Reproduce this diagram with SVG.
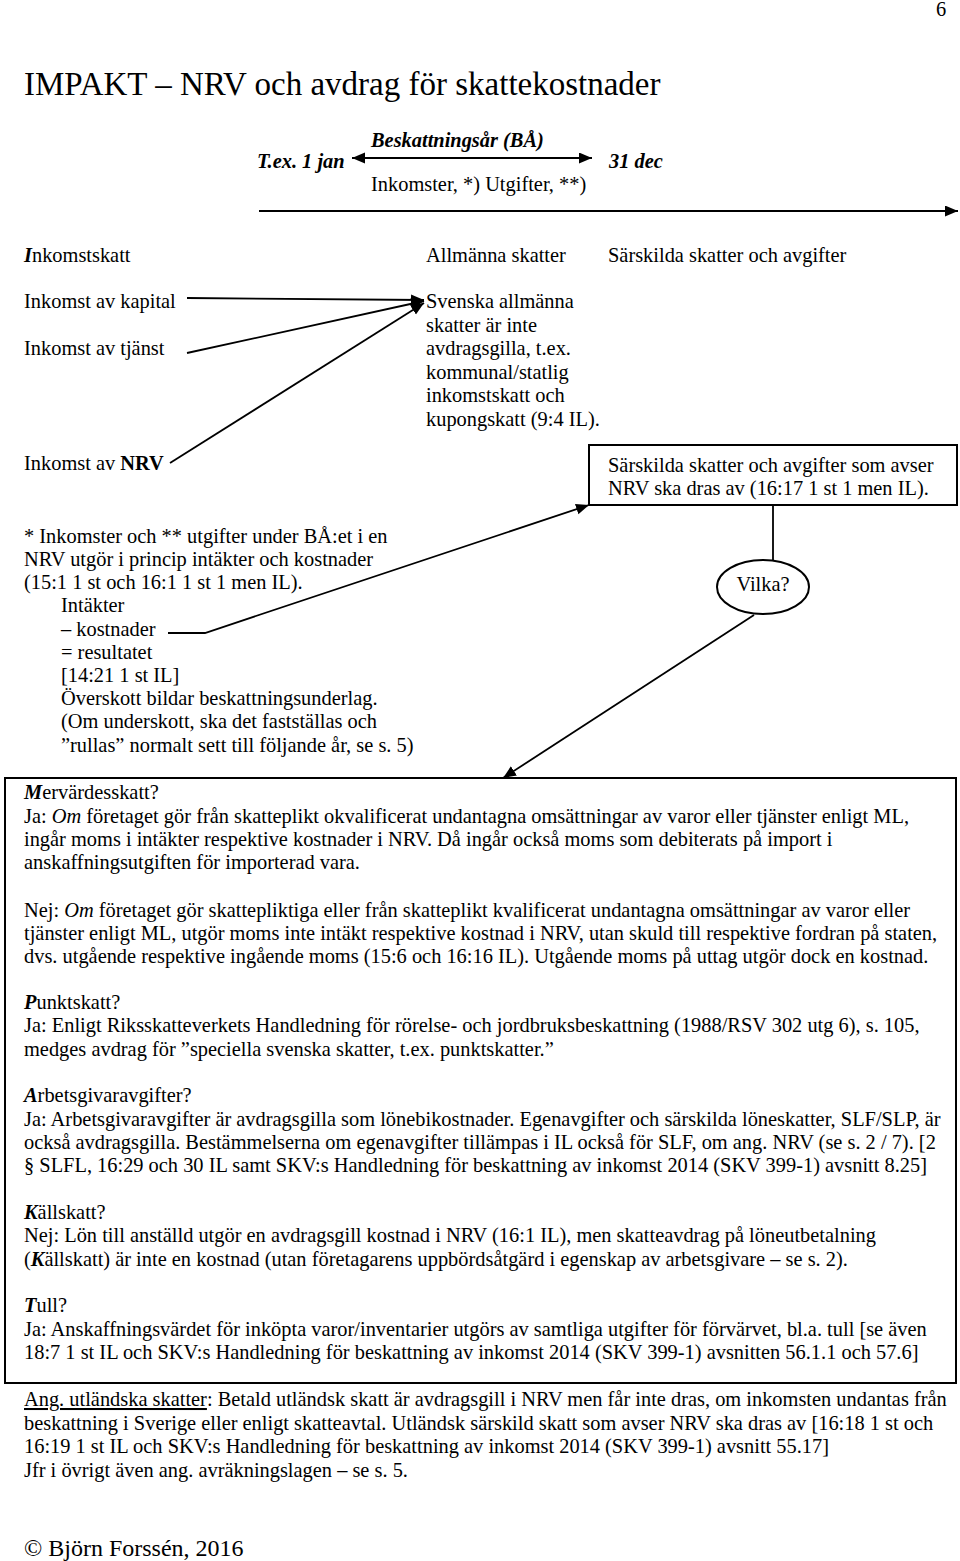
<svg xmlns="http://www.w3.org/2000/svg" width="960" height="1561" viewBox="0 0 960 1561">
<style>
text{font-family:"Liberation Serif","Times New Roman",serif;font-size:20.4px;fill:#000}
.t{font-size:33px}
.bi{font-weight:bold;font-style:italic}
.b{font-weight:bold}
.i{font-style:italic}
.ln{stroke:#000;stroke-width:1.8;fill:none}
.bx{stroke:#000;stroke-width:2;fill:none}
</style>
<defs>
<marker id="ah" markerUnits="userSpaceOnUse" markerWidth="14" markerHeight="12" refX="13" refY="5.5" orient="auto-start-reverse">
<path d="M0,0 L13,5.5 L0,11 z" fill="#000"/>
</marker>
</defs>
<rect width="960" height="1561" fill="#fff"/>
<text x="936" y="16">6</text>
<text class="t" x="24" y="95">IMPAKT – NRV och avdrag för skattekostnader</text>

<g id="timeline">
<text class="bi" x="371" y="147">Beskattningsår (BÅ)</text>
<text class="bi" x="257" y="168">T.ex. 1 jan</text>
<text class="bi" x="609" y="168">31 dec</text>
<text x="371" y="191">Inkomster, *) Utgifter, **)</text>
</g>

<g id="headers">
<text x="24" y="262"><tspan class="bi">I</tspan>nkomstskatt</text>
<text x="426" y="262">Allmänna skatter</text>
<text x="608" y="262">Särskilda skatter och avgifter</text>
</g>

<g id="inkomst-kapital"><text x="24" y="308">Inkomst av kapital</text></g>
<g id="inkomst-tjanst"><text x="24" y="355">Inkomst av tjänst</text></g>
<g id="inkomst-nrv"><text x="24" y="470">Inkomst av <tspan class="b">NRV</tspan></text></g>

<g id="svenska-allmanna">
<text x="426" y="308">Svenska allmänna</text>
<text x="426" y="332">skatter är inte</text>
<text x="426" y="355">avdragsgilla, t.ex.</text>
<text x="426" y="379">kommunal/statlig</text>
<text x="426" y="402">inkomstskatt och</text>
<text x="426" y="426">kupongskatt (9:4 IL).</text>
</g>

<g id="sarskilda-box">
<rect class="bx" x="589" y="445" width="368" height="60"/>
<text x="608" y="472">Särskilda skatter och avgifter som avser</text>
<text x="608" y="495">NRV ska dras av (16:17 1 st 1 men IL).</text>
</g>

<g id="vilka">
<ellipse class="bx" cx="763" cy="587" rx="46" ry="27"/>
<text x="763" y="591" text-anchor="middle">Vilka?</text>
</g>

<g id="nrv-note">
<text x="24" y="543">* Inkomster och ** utgifter under BÅ:et i en</text>
<text x="24" y="566">NRV utgör i princip intäkter och kostnader</text>
<text x="24" y="589">(15:1 1 st och 16:1 1 st 1 men IL).</text>
<text x="61" y="612">Intäkter</text>
<text x="61" y="636">– kostnader</text>
<text x="61" y="659">= resultatet</text>
<text x="61" y="682">[14:21 1 st IL]</text>
<text x="61" y="705">Överskott bildar beskattningsunderlag.</text>
<text x="61" y="728">(Om underskott, ska det fastställas och</text>
<text x="61" y="752">”rullas” normalt sett till följande år, se s. 5)</text>
</g>

<g id="main-box">
<rect class="bx" x="5" y="778" width="951" height="605"/>
<text x="24" y="799"><tspan class="bi">M</tspan>ervärdesskatt?</text>
<text x="24" y="823">Ja: <tspan class="i">Om</tspan> företaget gör från skatteplikt okvalificerat undantagna omsättningar av varor eller tjänster enligt ML,</text>
<text x="24" y="846">ingår moms i intäkter respektive kostnader i NRV. Då ingår också moms som debiterats på import i</text>
<text x="24" y="869">anskaffningsutgiften för importerad vara.</text>
<text x="24" y="917">Nej: <tspan class="i">Om</tspan> företaget gör skattepliktiga eller från skatteplikt kvalificerat undantagna omsättningar av varor eller</text>
<text x="24" y="940">tjänster enligt ML, utgör moms inte intäkt respektive kostnad i NRV, utan skuld till respektive fordran på staten,</text>
<text x="24" y="963">dvs. utgående respektive ingående moms (15:6 och 16:16 IL). Utgående moms på uttag utgör dock en kostnad.</text>
<text x="24" y="1009"><tspan class="bi">P</tspan>unktskatt?</text>
<text x="24" y="1032">Ja: Enligt Riksskatteverkets Handledning för rörelse- och jordbruksbeskattning (1988/RSV 302 utg 6), s. 105,</text>
<text x="24" y="1056">medges avdrag för ”speciella svenska skatter, t.ex. punktskatter.”</text>
<text x="24" y="1102"><tspan class="bi">A</tspan>rbetsgivaravgifter?</text>
<text x="24" y="1126">Ja: Arbetsgivaravgifter är avdragsgilla som lönebikostnader. Egenavgifter och särskilda löneskatter, SLF/SLP, är</text>
<text x="24" y="1149">också avdragsgilla. Bestämmelserna om egenavgifter tillämpas i IL också för SLF, om ang. NRV (se s. 2 / 7). [2</text>
<text x="24" y="1172">§ SLFL, 16:29 och 30 IL samt SKV:s Handledning för beskattning av inkomst 2014 (SKV 399-1) avsnitt 8.25]</text>
<text x="24" y="1219"><tspan class="bi">K</tspan>ällskatt?</text>
<text x="24" y="1242">Nej: Lön till anställd utgör en avdragsgill kostnad i NRV (16:1 IL), men skatteavdrag på löneutbetalning</text>
<text x="24" y="1266">(<tspan class="bi">K</tspan>ällskatt) är inte en kostnad (utan företagarens uppbördsåtgärd i egenskap av arbetsgivare – se s. 2).</text>
<text x="24" y="1312"><tspan class="bi">T</tspan>ull?</text>
<text x="24" y="1336">Ja: Anskaffningsvärdet för inköpta varor/inventarier utgörs av samtliga utgifter för förvärvet, bl.a. tull [se även</text>
<text x="24" y="1359">18:7 1 st IL och SKV:s Handledning för beskattning av inkomst 2014 (SKV 399-1) avsnitten 56.1.1 och 57.6]</text>
</g>

<g id="foreign-taxes">
<text x="24" y="1406"><tspan text-decoration="underline">Ang. utländska skatter</tspan>: Betald utländsk skatt är avdragsgill i NRV men får inte dras, om inkomsten undantas från</text>
<text x="24" y="1430">beskattning i Sverige eller enligt skatteavtal. Utländsk särskild skatt som avser NRV ska dras av [16:18 1 st och</text>
<text x="24" y="1453">16:19 1 st IL och SKV:s Handledning för beskattning av inkomst 2014 (SKV 399-1) avsnitt 55.17]</text>
<text x="24" y="1477">Jfr i övrigt även ang. avräkningslagen – se s. 5.</text>
</g>

<text x="24" y="1556" style="font-size:24px">© Björn Forssén, 2016</text>

<g id="connectors">
<line class="ln" x1="352" y1="158" x2="592" y2="158" marker-start="url(#ah)" marker-end="url(#ah)"/>
<line class="ln" x1="259" y1="211" x2="958" y2="211" marker-end="url(#ah)"/>
<line class="ln" x1="187" y1="298" x2="424" y2="300" marker-end="url(#ah)"/>
<line class="ln" x1="187" y1="353" x2="424" y2="301" marker-end="url(#ah)"/>
<line class="ln" x1="170" y1="463" x2="424" y2="303" marker-end="url(#ah)"/>
<polyline class="ln" points="168,633 205,633 589,505" marker-end="url(#ah)"/>
<line class="ln" x1="773" y1="505" x2="773" y2="560"/>
<line class="ln" x1="754" y1="615" x2="503" y2="778" marker-end="url(#ah)"/>
</g>
</svg>
